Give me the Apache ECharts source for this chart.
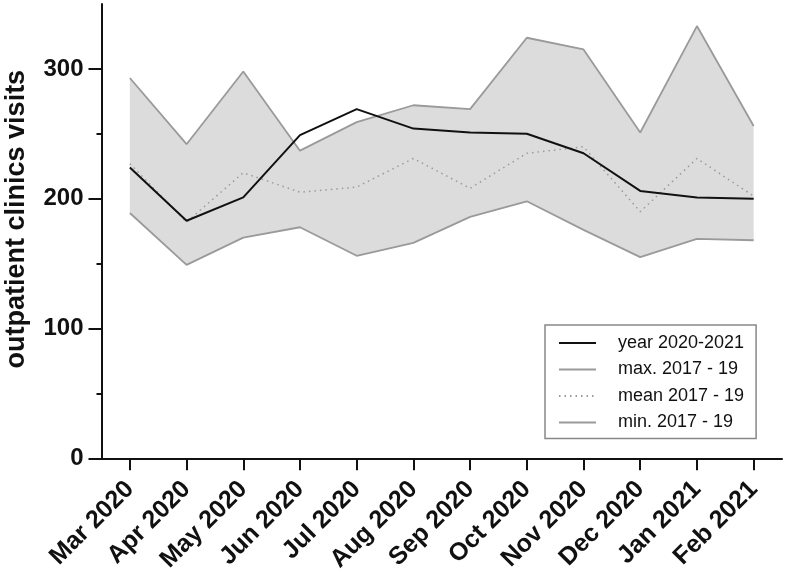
<!DOCTYPE html>
<html>
<head>
<meta charset="utf-8">
<script src="https://cdn.jsdelivr.net/npm/echarts@6/dist/echarts.min.js"></script>
<style>
html,body{margin:0;padding:0;background:#fff;}
#chart{width:787px;height:573px;}
</style>
</head>
<body>
<div id="chart"></div>
<script>
const categories = ['Mar 2020','Apr 2020','May 2020','Jun 2020','Jul 2020','Aug 2020','Sep 2020','Oct 2020','Nov 2020','Dec 2020','Jan 2021','Feb 2021'];
const yearValues = [224, 183, 201, 249, 269, 254, 251, 250, 235, 206, 201, 200];
const maxValues  = [293, 242, 298, 237, 259, 272, 269, 324, 315, 251, 333, 256];
const meanValues = [227, 182, 220, 205, 209, 231, 208, 235, 240, 190, 231, 202];
const minValues  = [189, 149, 170, 178, 156, 166, 186, 198, 176, 155, 169, 168];
const yTicks = [0, 100, 200, 300];

const bandDiff = maxValues.map((v, i) => v - minValues[i]);
const FONT = 'Liberation Sans, Arial, sans-serif';
const GRAY = '#9a9a9a';

const chart = echarts.init(document.getElementById('chart'), null, {renderer: 'canvas'});
chart.setOption({
  animation: false,
  backgroundColor: '#fff',
  grid: {left: 101.5, right: 5, top: 4, bottom: 114.7, containLabel: false, outerBoundsMode: 'none'},
  legend: {
    orient: 'vertical',
    left: 545, top: 325,
    data: ['year 2020-2021', 'max. 2017 - 19', 'mean 2017 - 19', 'min. 2017 - 19'],
    itemWidth: 37, itemHeight: 12, itemGap: 6.5,
    padding: [8, 12, 6, 13],
    borderColor: '#888', borderWidth: 1.5,
    backgroundColor: '#fff',
    itemStyle: {opacity: 0},
    textStyle: {fontFamily: FONT, fontSize: 18, color: '#111', lineHeight: 20, padding: [0, 0, 0, 17]}
  },
  xAxis: {
    type: 'category',
    data: categories,
    boundaryGap: true,
    axisLine: {lineStyle: {color: '#111', width: 2}},
    axisTick: {show: true, alignWithLabel: true, length: 12, lineStyle: {color: '#111', width: 2}},
    axisLabel: {rotate: 45, margin: 27, interval: 0, fontFamily: FONT, fontWeight: 'bold', fontSize: 25, color: '#111'},
    splitLine: {show: false}
  },
  yAxis: {
    type: 'value',
    min: 0, max: 350, interval: 100,
    name: 'outpatient clinics visits',
    nameLocation: 'middle',
    nameGap: 71,
    nameTextStyle: {fontFamily: FONT, fontWeight: 'bold', fontSize: 27, color: '#111', padding: [0, 0, 0, 24]},
    axisLine: {show: true, lineStyle: {color: '#111', width: 2}},
    axisTick: {show: true, length: 13, customValues: yTicks, lineStyle: {color: '#111', width: 2}},
    minorTick: {show: true, splitNumber: 2, length: 5, lineStyle: {color: '#111', width: 2}},
    axisLabel: {margin: 18, fontFamily: FONT, fontWeight: 'bold', fontSize: 24, color: '#111',
      formatter: v => (yTicks.indexOf(v) >= 0 ? String(v) : '')},
    splitLine: {show: false},
    minorSplitLine: {show: false}
  },
  series: [
    {
      name: 'min. 2017 - 19', type: 'line', data: minValues, stack: 'band',
      symbol: 'none', lineStyle: {color: GRAY, width: 1.8}, itemStyle: {color: GRAY}, z: 2
    },
    {
      name: 'band', type: 'line', data: bandDiff, stack: 'band',
      symbol: 'none', lineStyle: {opacity: 0, width: 0}, areaStyle: {color: '#dcdcdc', opacity: 1}, z: 1
    },
    {
      name: 'max. 2017 - 19', type: 'line', data: maxValues,
      symbol: 'none', lineStyle: {color: GRAY, width: 1.8}, itemStyle: {color: GRAY}, z: 3
    },
    {
      name: 'mean 2017 - 19', type: 'line', data: meanValues,
      symbol: 'none', lineStyle: {color: GRAY, width: 1.5, type: [1.5, 4]}, itemStyle: {color: GRAY}, z: 4
    },
    {
      name: 'year 2020-2021', type: 'line', data: yearValues,
      symbol: 'none', lineStyle: {color: '#111', width: 2}, itemStyle: {color: '#111'}, z: 5
    }
  ]
});
</script>
</body>
</html>
